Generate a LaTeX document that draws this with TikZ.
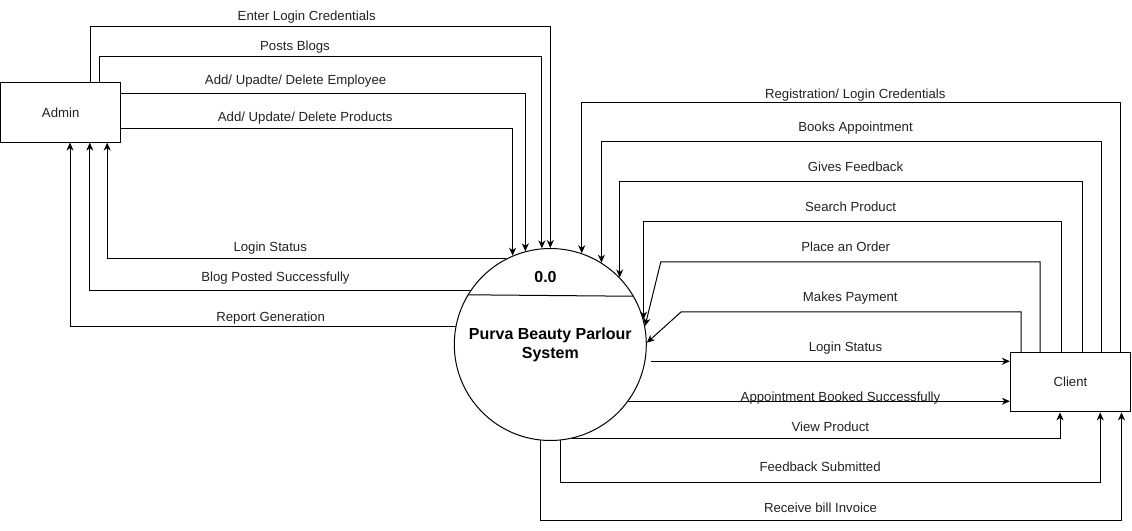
\documentclass[tikz,border=0pt]{standalone}
\usepackage{fontspec}
\setmainfont{Liberation Sans}
\usetikzlibrary{arrows.meta}
\definecolor{txt}{HTML}{222222}
\begin{document}
\begin{tikzpicture}[
		x=1pt, y=1pt,
		line width=1pt,
		box/.style={rectangle, draw=black, minimum width=120pt, minimum height=59.5pt, inner sep=0pt, font=\fontsize{13.2}{15}\selectfont, text=txt},
		proc/.style={circle, draw=black, minimum size=192pt, inner sep=0pt},
		lbl/.style={anchor=base, yshift=-4.7pt, inner sep=0pt, font=\fontsize{13.2}{15}\selectfont, text=txt},
		flow/.style={-{Stealth[length=8pt, width=7pt, inset=2.5pt]}}
		]
		\useasboundingbox (0,0) rectangle (1132,530);
		\node[box] (admin) at (60.7,417.65) {Admin};
		\node[box] (client) at (1070.4,147.85) {Client};
		\node[proc] (sys) at (550.3,185.5) {};
		\draw (sys.149.45) -- (sys.30.55);
		\node[font=\bfseries\fontsize{16}{19}\selectfont] (num) at ([xshift=-4.8pt, yshift=68pt]sys.center) {0.0};
		\node[font=\bfseries\fontsize{16}{19}\selectfont, align=center] (title) at (sys.center) {Purva Beauty Parlour\\System};

		\draw[flow] ([xshift=90pt]admin.north west) -- ++(0,55.35) -| (sys.north);
		\draw[flow] ([xshift=99.5pt]admin.north west) -- ++(0,25.95) -| (sys.95.9);
		\draw[flow] ([yshift=18.35pt]admin.east) -| (sys.105.3);
		\draw[flow] ([yshift=-16.65pt]admin.east) -| (sys.113.5);
		\draw[flow] (sys.117.4) -| ([xshift=107pt]admin.south west);
		\draw[flow] (sys.146.8) -| ([xshift=89.6pt]admin.south west);
		\draw[flow] (sys.169.9) -| ([xshift=69.8pt]admin.south west);

		\draw[flow] ([xshift=-10.4pt]client.north east) -- ++(0,249.1) -| (sys.71.7);
		\draw[flow] ([xshift=-29.9pt]client.north east) -- ++(0,210.1) -| (sys.58.8);
		\draw[flow] ([xshift=-48.9pt]client.north east) -- ++(0,170.1) -| (sys.44.8);
		\draw[flow] ([xshift=-69.4pt]client.north east) -- ++(0,130.1) -| (sys.15.5);
		\draw[flow] ([xshift=-90.9pt]client.north east) -- ++(0,90.1) -- ++(-379.2,0) -- (sys.11.6);
		\draw[flow] ([xshift=-109.7pt]client.north east) -- ++(0,40.1) -- ++(-340,0) -- (sys.1.5);
		\draw[flow] ([xshift=6pt]sys.-10.8) -- (sys.-10.8 -| client.west);
		\draw[flow] (sys.-36.9) -- (sys.-36.9 -| client.west);
		\draw[flow] (sys.-77.7) -| ([xshift=-10.4pt]client.south);
		\draw[flow] (sys.-84.1) -- ++(0,-42.3) -| ([xshift=29.8pt]client.south);
		\draw[flow] (sys.-96.4) -- ++(0,-80.4) -| ([xshift=51.1pt]client.south);

		\node[lbl] (lEnter) at (306.7,514.3) {Enter Login Credentials};
		\node[lbl] (lPosts) at (295,484.3) {Posts Blogs};
		\node[lbl] (lEmp) at (295.6,449.7) {Add/ Upadte/ Delete Employee};
		\node[lbl] (lProd) at (305.2,412.7) {Add/ Update/ Delete Products};
		\node[lbl] (lLogA) at (270.2,282.7) {Login Status};
		\node[lbl] (lBlog) at (275.5,252.7) {Blog Posted Successfully};
		\node[lbl] (lRep) at (270.6,212.7) {Report Generation};
		\node[lbl] (lReg) at (855.3,435.7) {Registration/ Login Credentials};
		\node[lbl] (lBook) at (855.5,402.7) {Books Appointment};
		\node[lbl] (lGive) at (855.5,362.7) {Gives Feedback};
		\node[lbl] (lSearch) at (850.6,322.7) {Search Product};
		\node[lbl] (lOrder) at (845.7,282.7) {Place an Order};
		\node[lbl] (lPay) at (850.3,232.7) {Makes Payment};
		\node[lbl] (lLogC) at (845.5,182.7) {Login Status};
		\node[lbl] (lAppt) at (840.5,132.7) {Appointment Booked Successfully};
		\node[lbl] (lView) at (830.3,102.7) {View Product};
		\node[lbl] (lFeed) at (820.1,62.7) {Feedback Submitted};
		\node[lbl] (lBill) at (820.5,22.7) {Receive bill Invoice};
	\end{tikzpicture}
\end{document}
